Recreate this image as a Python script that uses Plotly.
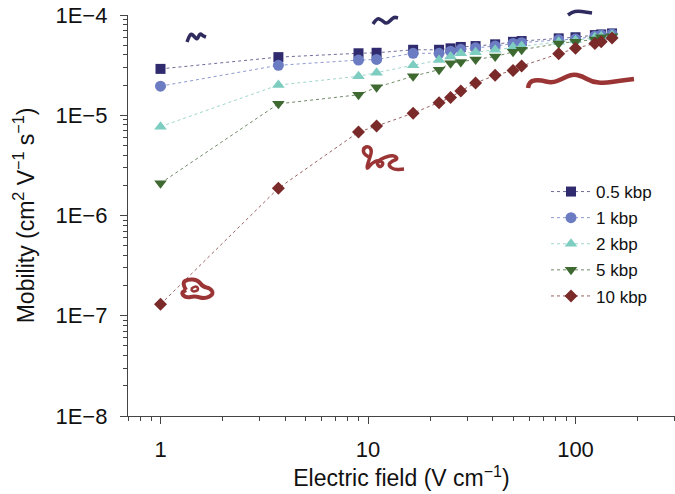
import plotly.graph_objects as go

# ---------------- data ----------------
field = [1, 3.7, 9, 11, 16.5, 22, 25, 28, 33, 41, 50, 55, 83, 100, 124, 133, 150]

mob_05 = [2.9e-5, 3.8e-5, 4.15e-5, 4.2e-5, 4.5e-5, 4.5e-5, 4.65e-5, 4.8e-5, 4.9e-5,
          5.1e-5, 5.4e-5, 5.5e-5, 5.85e-5, 6.0e-5, 6.3e-5, 6.4e-5, 6.55e-5]
mob_1 = [1.95e-5, 3.15e-5, 3.55e-5, 3.6e-5, 4.15e-5, 4.15e-5, 4.35e-5, 4.55e-5, 4.7e-5,
         4.9e-5, 5.2e-5, 5.3e-5, 5.65e-5, 5.75e-5, 6.15e-5, 6.3e-5, 6.45e-5]
mob_2 = [7.7e-6, 2.0e-5, 2.45e-5, 2.65e-5, 3.15e-5, 3.55e-5, 3.85e-5, 4.15e-5, 4.25e-5,
         4.5e-5, 4.8e-5, 4.9e-5, 5.4e-5, 5.6e-5, 6.0e-5, 6.15e-5, 6.3e-5]
mob_5 = [2.1e-6, 1.3e-5, 1.6e-5, 1.9e-5, 2.45e-5, 2.85e-5, 3.3e-5, 3.4e-5, 3.6e-5,
         3.85e-5, 4.3e-5, 4.5e-5, 5.2e-5, 5.4e-5, 5.7e-5, 6.0e-5, 6.15e-5]
mob_10 = [1.3e-7, 1.87e-6, 6.8e-6, 7.8e-6, 1.05e-5, 1.33e-5, 1.5e-5, 1.75e-5, 2.1e-5,
          2.5e-5, 2.8e-5, 3.1e-5, 4.1e-5, 4.65e-5, 5.2e-5, 5.4e-5, 5.9e-5]

series_names = ["0.5 kbp", "1 kbp", "2 kbp", "5 kbp", "10 kbp"]
series_vals = [mob_05, mob_1, mob_2, mob_5, mob_10]

y_tickvals = [1e-8, 1e-7, 1e-6, 1e-5, 1e-4]
y_ticktext = ["1E\u22128", "1E\u22127", "1E\u22126", "1E\u22125", "1E\u22124"]
x_tickvals = [1, 10, 100]
x_ticktext = ["1", "10", "100"]

# ---------------- styles ----------------
colors = ["#2f2b6e", "#6b7cc3", "#7ecdc1", "#3e6a32", "#7b2a2a"]
line_colors = ["#6f6c98", "#8e9ad0", "#9fd6cd", "#6f8a66", "#9a6262"]
symbols = ["square", "circle", "triangle-up", "triangle-down", "diamond"]
sizes = [10, 11, 11, 11, 10]

FONT = "Liberation Sans, Arial, Helvetica, sans-serif"

fig = go.Figure()
for name, vals, c, lc, s, sz in zip(series_names, series_vals, colors, line_colors, symbols, sizes):
    fig.add_trace(go.Scatter(
        x=field, y=vals, name=name, mode="lines+markers", legendgroup=name,
        line=dict(color=lc, width=1, dash="dot"),
        marker=dict(symbol=s, size=sz, color=c, line=dict(width=0)),
    ))

# minor tick positions
x_minor = [m * 10 ** e for e in (-1, 0, 1, 2) for m in range(2, 10)
           if 0.7 <= m * 10 ** e <= 300]
y_minor = [m * 10.0 ** e for e in (-8, -7, -6, -5) for m in range(2, 10)]

# ---------------- decorations (DNA sketches) ----------------
L, R, T, B = 128, 675, 15, 416
W, H = R - L, B - T


def px2paper(pts):
    return [((x - L) / W, (B - y) / H) for x, y in pts]


def path_of(pts):
    p = px2paper(pts)
    s = "M %.4f,%.4f" % p[0]
    for i in range(1, len(p) - 1):
        mx = (p[i][0] + p[i + 1][0]) / 2
        my = (p[i][1] + p[i + 1][1]) / 2
        s += " Q %.4f,%.4f %.4f,%.4f" % (p[i][0], p[i][1], mx, my)
    s += " L %.4f,%.4f" % p[-1]
    return s


navy = "#2f2b5e"
darkred = "#9b3535"
sketches = [
    ([(187, 42), (190, 33), (194, 36), (197, 40), (200, 33), (203, 36), (206, 37)], navy, 3.5),
    ([(373, 24), (377, 18), (382, 20), (386, 24), (391, 20), (394, 17), (398, 18)], navy, 3.5),
    ([(568, 15), (572, 12), (578, 11), (585, 12), (592, 13)], navy, 3.5),
    ([(528, 88), (529, 81), (540, 80), (552, 83), (562, 79), (572, 74), (582, 76),
      (592, 82), (605, 83), (618, 81), (634, 79)], darkred, 4.5),
    ([(371, 158), (364, 155), (363, 148), (369, 146), (372, 151), (369, 160), (366, 170),
      (372, 163), (378, 160), (384, 163), (380, 168), (376, 162), (385, 157), (394, 155),
      (398, 159), (392, 161), (388, 165), (394, 170), (404, 169)], darkred, 3.5),
    ([(186, 290), (182, 283), (188, 279), (198, 280), (203, 287), (210, 288), (214, 294),
      (205, 299), (195, 296), (186, 298), (181, 293), (186, 290)], darkred, 4),
    ([(191, 289), (196, 285), (199, 290), (193, 292), (191, 289)], darkred, 2.5),
]
shapes = []
for pts, col, w in sketches:
    shapes.append(dict(type="path", xref="paper", yref="paper", path=path_of(pts),
                       line=dict(color=col, width=w), layer="above"))

fig.update_layout(
    width=675, height=494,
    margin=dict(l=L, r=675 - R, t=T, b=494 - B),
    paper_bgcolor="white", plot_bgcolor="white",
    font=dict(family=FONT, size=22, color="#111"),
    showlegend=True,
    legend=dict(x=(546 - L) / W, y=(B - 174) / H, xanchor="left", yanchor="top",
                font=dict(family=FONT, size=17, color="#111"),
                bgcolor="rgba(255,255,255,0)", tracegroupgap=1, itemwidth=40),
    shapes=shapes,
)

fig.update_xaxes(
    type="log", range=[-0.1566, 2.4795],
    tickmode="array", tickvals=x_tickvals, ticktext=x_ticktext,
    ticks="outside", ticklen=7, tickwidth=1.2, tickcolor="#444",
    showline=True, linecolor="#444", linewidth=1.3, showgrid=False, zeroline=False,
    minor=dict(tickmode="array", tickvals=x_minor, ticks="outside", ticklen=4,
               tickwidth=1, tickcolor="#444", showgrid=False),
    tickfont=dict(size=22), ticklabelstandoff=6,
    title=dict(text="Electric field (V cm<sup>\u22121</sup>)", font=dict(size=23), standoff=0),
)
fig.update_yaxes(
    type="log", range=[-8, -4],
    tickmode="array", tickvals=y_tickvals, ticktext=y_ticktext,
    ticks="outside", ticklen=7, tickwidth=1.2, tickcolor="#444",
    showline=True, linecolor="#444", linewidth=1.3, showgrid=False, zeroline=False,
    minor=dict(tickmode="array", tickvals=y_minor, ticks="outside", ticklen=4,
               tickwidth=1, tickcolor="#444", showgrid=False),
    tickfont=dict(size=22), ticklabelstandoff=8,
    title=dict(text="Mobility (cm<sup>2</sup> V<sup>\u22121</sup> s<sup>\u22121</sup>)",
               font=dict(size=23), standoff=14),
)

fig.write_html("out.html", config={"displayModeBar": False},
               post_script="document.body.style.margin='0px';document.body.style.overflow='hidden';")
